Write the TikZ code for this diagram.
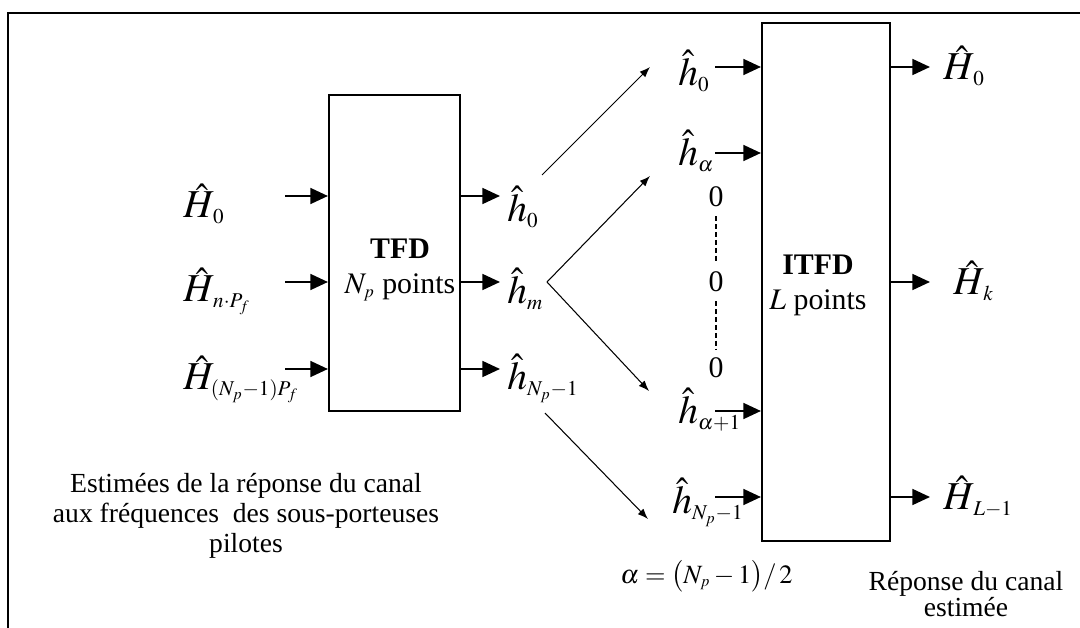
\documentclass[tikz,border=0pt]{standalone}
\usepackage{amsmath}
\usepackage{mathptmx}
\usepackage{fontspec}
\setmainfont{Liberation Serif}
\usetikzlibrary{arrows.meta, positioning, calc}
\DeclareMathSizes{22.5}{22.5}{12}{9}
\DeclareMathSizes{17}{17}{10}{8}
\DeclareMathSizes{15}{15}{9}{7}
\tikzset{
    % Node styles
    blockbox/.style={
        rectangle,
        draw=black,
        line width=1.2pt,
        inner sep=0pt
    },
    blocktext/.style={
        align=center,
        inner sep=0pt,
        font=\fontsize{17}{20}\selectfont
    },
    sigtext/.style={
        anchor=base west,
        inner sep=0pt,
        font=\fontsize{22.5}{26}\selectfont
    },
    zerotext/.style={
        inner sep=0pt,
        font=\fontsize{17}{20}\selectfont
    },
    captext/.style={
        align=center,
        inner sep=0pt,
        anchor=north,
        font=\fontsize{15.7}{17}\selectfont
    },
    % Arrow styles
    fatarrow/.style={
        -{Triangle[length=10pt,width=9pt]},
        line width=1.2pt
    },
    thinarrow/.style={
        -{Latex[length=6pt,width=4.5pt]},
        line width=0.6pt
    },
    zeroline/.style={
        line width=0.8pt,
        dash pattern=on 3pt off 1.5pt,
        shorten <=5pt,
        shorten >=5pt
    },
    frameline/.style={
        line width=1pt
    }
}

\begin{document}
\begin{tikzpicture}[x=0.02cm, y=-0.02cm]
    \useasboundingbox (0,0) rectangle (1080,628);
    \draw[frameline] (8,628) -- (8,13) -- (1080,13);

    % TFD block
    \node[blockbox, minimum width=2.62cm, minimum height=6.32cm] (tfd) at (394.5,253) {};
    \node[blocktext] (tfdlbl) at (400,270) {\textbf{TFD}\\$N_p$ points};

    \node[sigtext] (hin0) at (183,218) {$\hat{H}_{\,0}$};
    \node[sigtext] (hin1) at (183,302) {$\hat{H}_{\,n\cdot P_f}$};
    \node[sigtext] (hin2) at (183,390) {$\hat{H}_{\left(N_p-1\right)P_f}$};
    \coordinate (ti0) at (285,196);
    \coordinate (ti1) at (285,282);
    \coordinate (ti2) at (285,369);
    \draw[fatarrow] (ti0) -- (ti0 -| tfd.west);
    \draw[fatarrow] (ti1) -- (ti1 -| tfd.west);
    \draw[fatarrow] (ti2) -- (ti2 -| tfd.west);

    \coordinate (to0) at (500,196);
    \coordinate (to1) at (500,282);
    \coordinate (to2) at (500,369);
    \draw[fatarrow] (tfd.east |- to0) -- (to0);
    \draw[fatarrow] (tfd.east |- to1) -- (to1);
    \draw[fatarrow] (tfd.east |- to2) -- (to2);
    \node[sigtext] (hout0) at (507,222) {$\hat{h}_0$};
    \node[sigtext] (houtm) at (507,304) {$\hat{h}_m$};
    \node[sigtext] (houtn) at (507,390) {$\hat{h}_{N_p-1}$};

    % ITFD block
    \node[blockbox, minimum width=2.56cm, minimum height=10.36cm] (itfd) at (826,282) {};
    \node[blocktext] (itfdlbl) at (818,285) {\textbf{ITFD}\\$L$ points};

    \node[sigtext] (hz0) at (678,86) {$\hat{h}_0$};
    \node[sigtext] (hza) at (678,166) {$\hat{h}_\alpha$};
    \node[sigtext] (hzb) at (678,424) {$\hat{h}_{\alpha+1}$};
    \node[sigtext] (hzn) at (672,514) {$\hat{h}_{N_p-1}$};
    \coordinate (ti3) at (715,67);
    \coordinate (ti4) at (715,153);
    \coordinate (ti5) at (715,411);
    \coordinate (ti6) at (715,497);
    \draw[fatarrow] (ti3) -- (ti3 -| itfd.west);
    \draw[fatarrow] (ti4) -- (ti4 -| itfd.west);
    \draw[fatarrow] (ti5) -- (ti5 -| itfd.west);
    \draw[fatarrow] (ti6) -- (ti6 -| itfd.west);

    \node[zerotext] (z1) at (716,197) {0};
    \node[zerotext] (z2) at (716,282) {0};
    \node[zerotext] (z3) at (716,368) {0};
    \draw[zeroline] (z1) -- (z2);
    \draw[zeroline] (z2) -- (z3);

    \coordinate (tq0) at (930,67);
    \coordinate (tq1) at (930,282);
    \coordinate (tq2) at (930,497);
    \draw[fatarrow] (itfd.east |- tq0) -- (tq0);
    \draw[fatarrow] (itfd.east |- tq1) -- (tq1);
    \draw[fatarrow] (itfd.east |- tq2) -- (tq2);
    \node[sigtext] (hq0) at (943,80) {$\hat{H}_{\,0}$};
    \node[sigtext] (hqk) at (953,295) {$\hat{H}_{\,k}$};
    \node[sigtext] (hql) at (943,510) {$\hat{H}_{\,L-1}$};

    % reordering
    \coordinate (d0s) at (542,175);
    \coordinate (d0e) at (650,67);
    \coordinate (fork) at (547,282);
    \coordinate (d1e) at (650,176);
    \coordinate (d2e) at (649,391);
    \coordinate (d3s) at (545,413);
    \coordinate (d3e) at (648,519);
    \draw[thinarrow] (d0s) -- (d0e);
    \draw[thinarrow] (fork) -- (d1e);
    \draw[thinarrow] (fork) -- (d2e);
    \draw[thinarrow] (d3s) -- (d3e);

    \node[sigtext, font=\fontsize{15}{18}\selectfont] (alphadef) at (620,583) {$\alpha=\bigl(N_p-1\bigr)/\,2$};

    \node[captext] (capin) at (246,473) {Estimées de la réponse du canal\\aux fréquences\ \ des sous-porteuses\\pilotes};
    \node[captext, font=\fontsize{15.7}{15}\selectfont] (capout) at (966,571) {Réponse du canal\\estimée};
\end{tikzpicture}
\end{document}
